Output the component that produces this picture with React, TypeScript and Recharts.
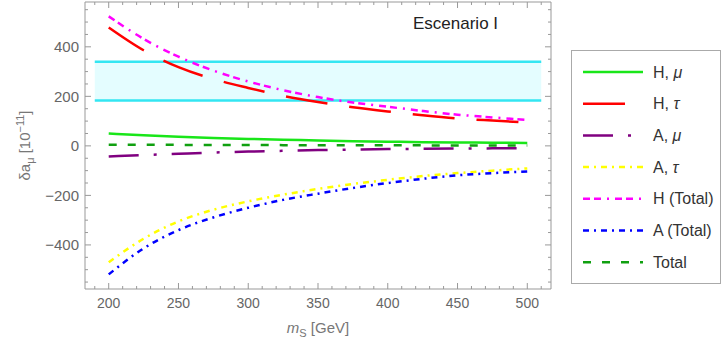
import React from "react";
import { LineChart, Line, XAxis, YAxis, ReferenceArea, ReferenceLine, Label } from "recharts";

// m_S in GeV
const mS = [200, 225, 250, 275, 300, 325, 350, 375, 400, 425, 450, 475, 500];

// delta a_mu in units of 1e-11
const hMu = [50, 43, 37, 32, 28, 25, 22, 19, 17, 15, 14, 13, 12];
const hTau = [478, 386, 318, 270, 234, 202, 177, 156, 139, 124, 111, 102, 94];
const aMu = [-43, -37, -32, -27, -23, -20, -17, -15, -13, -12, -11, -10, -9];
const aTau = [-470, -375, -305, -258, -224, -197, -174, -154, -137, -122, -110, -100, -91];
const hTotal = [523, 432, 360, 304, 260, 225, 197, 175, 158, 141, 126, 115, 105];
const aTotal = [-519, -414, -340, -289, -250, -218, -193, -170, -150, -133, -119, -110, -103];
const total = [5, 5, 4, 4, 4, 3, 3, 3, 3, 2, 2, 2, 2];

// experimental band
const bandX = [190, 510];
const bandY = [183, 340];

const xMajor = [200, 250, 300, 350, 400, 450, 500];
const xTicks = [
  190, 200, 210, 220, 230, 240, 250, 260, 270, 280, 290, 300, 310, 320, 330, 340, 350,
  360, 370, 380, 390, 400, 410, 420, 430, 440, 450, 460, 470, 480, 490, 500, 510,
];
const yMajor = [-400, -200, 0, 200, 400];
const yTicks = [
  -550, -500, -450, -400, -350, -300, -250, -200, -150, -100, -50, 0, 50, 100, 150, 200,
  250, 300, 350, 400, 450, 500, 550,
];

const data = mS.map((m, i) => ({
  m,
  hMu: hMu[i],
  hTau: hTau[i],
  aMu: aMu[i],
  aTau: aTau[i],
  hTotal: hTotal[i],
  aTotal: aTotal[i],
  total: total[i],
}));

const series = [
  { key: "hMu", pre: "H, ", greek: "μ", color: "#19e619", dash: undefined },
  { key: "hTau", pre: "H, ", greek: "τ", color: "#ff0000", dash: "42 22" },
  { key: "aMu", pre: "A, ", greek: "μ", color: "#800080", dash: "30 15 3 15" },
  { key: "aTau", pre: "A, ", greek: "τ", color: "#ffff00", dash: "6 5 2 5" },
  { key: "hTotal", pre: "H (Total)", greek: "", color: "#ff00ff", dash: "7 4 7 6 2 6" },
  { key: "aTotal", pre: "A (Total)", greek: "", color: "#0000ff", dash: "6 5 2 5" },
  { key: "total", pre: "Total", greek: "", color: "#10a010", dash: "8 11" },
];

const FRAME = "#999999";
const TICK_TEXT = "#666666";
const FONT = "'Liberation Sans', Arial, sans-serif";
const X_DOMAIN = [183, 517];
const Y_DOMAIN = [-578, 581];

const fmt = (v: number) => (v < 0 ? `\u2212${-v}` : `${v}`);

const BottomTick = (props: any) => {
  const { x, y, payload } = props;
  const major = xMajor.includes(payload.value);
  return (
    <g>
      <line x1={x} x2={x} y1={y} y2={y - (major ? 6 : 3)} stroke={FRAME} />
      {major && (
        <text x={x} y={y + 19} textAnchor="middle" fill={TICK_TEXT} fontSize={14} fontFamily={FONT}>
          {payload.value}
        </text>
      )}
    </g>
  );
};

const TopTick = (props: any) => {
  const { x, y, payload } = props;
  const major = xMajor.includes(payload.value);
  return <line x1={x} x2={x} y1={y} y2={y + (major ? 6 : 3)} stroke={FRAME} />;
};

const LeftTick = (props: any) => {
  const { x, y, payload } = props;
  const major = yMajor.includes(payload.value);
  return (
    <g>
      <line x1={x} x2={x + (major ? 6 : 3)} y1={y} y2={y} stroke={FRAME} />
      {major && (
        <text x={x - 6} y={y} dy="0.35em" textAnchor="end" fill={TICK_TEXT} fontSize={15} fontFamily={FONT}>
          {fmt(payload.value)}
        </text>
      )}
    </g>
  );
};

const RightTick = (props: any) => {
  const { x, y, payload } = props;
  const major = yMajor.includes(payload.value);
  return <line x1={x} x2={x - (major ? 6 : 3)} y1={y} y2={y} stroke={FRAME} />;
};

const XTitle = (props: any) => {
  const { x, y, width } = props.viewBox;
  return (
    <text x={x + width / 2} y={y + 44} textAnchor="middle" fill="#777" fontSize={15} fontFamily={FONT}>
      <tspan fontStyle="italic">m</tspan>
      <tspan fontSize={11} dy={4}>S</tspan>
      <tspan dy={-4}> [GeV]</tspan>
    </text>
  );
};

const YTitle = (props: any) => {
  const { y, height } = props.viewBox;
  const cx = 30;
  const cy = y + height / 2;
  return (
    <text
      x={cx}
      y={cy}
      transform={`rotate(-90 ${cx} ${cy})`}
      textAnchor="middle"
      fill="#777"
      fontSize={15}
      fontFamily={FONT}
    >
      <tspan>δa</tspan>
      <tspan fontSize={11} dy={4}>μ</tspan>
      <tspan dy={-4}> [10</tspan>
      <tspan fontSize={11} dy={-6}>−11</tspan>
      <tspan dy={6}>]</tspan>
    </text>
  );
};

function LegendBox() {
  return (
    <svg width={150} height={234} style={{ position: "absolute", left: 571, top: 50 }}>
      <rect x={0.5} y={0.5} width={149} height={233} fill="#fff" stroke="#aaa" />
      {series.map((s, i) => {
        const cy = 22 + i * 31.7;
        return (
          <g key={s.key}>
            <line x1={12} x2={72} y1={cy} y2={cy} stroke={s.color} strokeWidth={2.5} strokeDasharray={s.dash} />
            <text x={82} y={cy} dy="0.35em" fontSize={16} fontFamily={FONT} fill="#333">
              {s.pre}
              {s.greek && <tspan fontStyle="italic">{s.greek}</tspan>}
            </text>
          </g>
        );
      })}
    </svg>
  );
}

export default function App() {
  return (
    <div style={{ position: "absolute", left: 0, top: 0, width: 723, height: 345, background: "#fff" }}>
      <LineChart width={723} height={345} data={data} margin={{ top: 1, right: 171, bottom: 0, left: 0 }}>
        <XAxis
          xAxisId="0"
          dataKey="m"
          type="number"
          domain={X_DOMAIN}
          allowDataOverflow
          ticks={xTicks}
          interval={0}
          height={56}
          tickSize={0}
          tickMargin={0}
          tick={<BottomTick />}
          axisLine={{ stroke: FRAME }}
        >
          <Label content={<XTitle />} />
        </XAxis>
        <XAxis
          xAxisId="top"
          orientation="top"
          dataKey="m"
          type="number"
          domain={X_DOMAIN}
          allowDataOverflow
          ticks={xTicks}
          interval={0}
          height={1}
          tickSize={0}
          tickMargin={0}
          tick={<TopTick />}
          axisLine={{ stroke: FRAME }}
        />
        <YAxis
          yAxisId="0"
          type="number"
          domain={Y_DOMAIN}
          allowDataOverflow
          ticks={yTicks}
          interval={0}
          width={85}
          tickSize={0}
          tickMargin={0}
          tick={<LeftTick />}
          axisLine={{ stroke: FRAME }}
        >
          <Label content={<YTitle />} />
        </YAxis>
        <YAxis
          yAxisId="right"
          orientation="right"
          type="number"
          domain={Y_DOMAIN}
          allowDataOverflow
          ticks={yTicks}
          interval={0}
          width={1}
          tickSize={0}
          tickMargin={0}
          tick={<RightTick />}
          axisLine={{ stroke: FRAME }}
        />
        <ReferenceArea
          x1={bandX[0]}
          x2={bandX[1]}
          y1={bandY[0]}
          y2={bandY[1]}
          fill="#e4fdff"
          fillOpacity={1}
          stroke="none"
        />
        <ReferenceLine
          segment={[{ x: bandX[0], y: bandY[1] }, { x: bandX[1], y: bandY[1] }]}
          stroke="#33e6f2"
          strokeWidth={2.5}
        />
        <ReferenceLine
          segment={[{ x: bandX[0], y: bandY[0] }, { x: bandX[1], y: bandY[0] }]}
          stroke="#33e6f2"
          strokeWidth={2.5}
        />
        {series.map((s) => (
          <Line
            key={s.key}
            dataKey={s.key}
            type="monotone"
            stroke={s.color}
            strokeWidth={2.5}
            strokeDasharray={s.dash}
            dot={false}
            isAnimationActive={false}
          />
        ))}
      </LineChart>
      <div
        style={{
          position: "absolute",
          left: 413,
          top: 14,
          fontSize: 17,
          fontFamily: FONT,
          color: "#222",
          lineHeight: "20px",
        }}
      >
        Escenario I
      </div>
      <LegendBox />
    </div>
  );
}
